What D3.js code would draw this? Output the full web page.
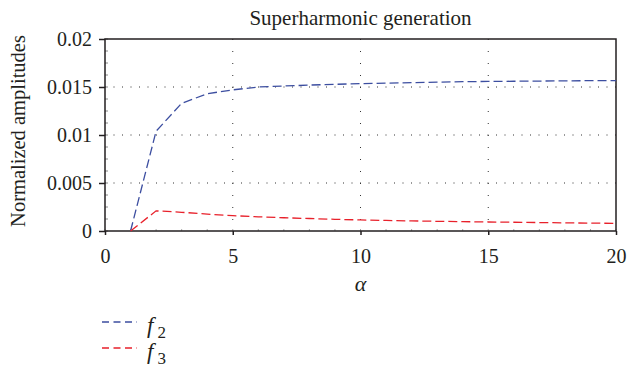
<!DOCTYPE html>
<html>
<head>
<meta charset="utf-8">
<script src="https://cdn.jsdelivr.net/npm/d3@7"></script>
<style>
  body { margin: 0; background: #fff; }
</style>
</head>
<body>
<svg id="canvas" width="629" height="367"></svg>
<script>
// values
var alpha = [1, 2, 3, 4, 5, 6, 7, 8, 9, 10, 11, 12, 13, 14, 15, 16, 17, 18, 19, 20]
var f2 = [0, 0.0104, 0.0133, 0.0143, 0.0147, 0.0150, 0.0151, 0.0152, 0.01528, 0.01535,
  0.0154, 0.01545, 0.0155, 0.01555, 0.01558, 0.0156, 0.01562, 0.01564, 0.01566, 0.01567]
var f3 = [0, 0.0021, 0.00195, 0.00176, 0.0016, 0.00148, 0.00138, 0.0013, 0.00122, 0.00115,
  0.0011, 0.00105, 0.00101, 0.00097, 0.00094, 0.00091, 0.00088, 0.00085, 0.00082, 0.0008]
var xTicks = [0, 5, 10, 15, 20]
var yTicks = [0, 0.005, 0.01, 0.015, 0.02]
var yTickLabels = ['0', '0.005', '0.01', '0.015', '0.02']
var seriesNames = ['2', '3']
var colors = ['#3c4ea0', '#e8212b']

var serif = '"Liberation Serif", serif'
var ink = '#231f20'
var margin = {left: 105, right: 13, top: 39, bottom: 136}
var width = 629 - margin.left - margin.right
var height = 367 - margin.top - margin.bottom

var svg = d3.select('#canvas')
var g = svg.append('g').attr('transform', 'translate(' + margin.left + ',' + margin.top + ')')

var x = d3.scaleLinear().domain([0, 20]).range([0, width])
var y = d3.scaleLinear().domain([0, 0.02]).range([height, 0])

// dotted grid
g.append('g').selectAll('line')
  .data(xTicks.slice(1, -1))
  .enter().append('line')
  .attr('x1', d => x(d)).attr('x2', d => x(d))
  .attr('y1', 0).attr('y2', height)
  .attr('stroke', '#333').attr('stroke-width', 1)
  .attr('stroke-dasharray', '1,11')
g.append('g').selectAll('line')
  .data(yTicks.slice(1, -1))
  .enter().append('line')
  .attr('y1', d => y(d)).attr('y2', d => y(d))
  .attr('x1', 0).attr('x2', width)
  .attr('stroke', '#333').attr('stroke-width', 1)
  .attr('stroke-dasharray', '1,7.5')

// minor ticks, inward
g.append('g').selectAll('line')
  .data(d3.range(0, 0.0201, 0.00125))
  .enter().append('line')
  .attr('x1', 0).attr('x2', 3)
  .attr('y1', d => y(d)).attr('y2', d => y(d))
  .attr('stroke', '#888')
g.append('g').selectAll('line')
  .data(d3.range(0, 20.01, 1))
  .enter().append('line')
  .attr('y1', height).attr('y2', height - 2)
  .attr('x1', d => x(d)).attr('x2', d => x(d))
  .attr('stroke', '#aaa')

// axes
var xAxis = g.append('g')
  .attr('transform', 'translate(0,' + height + ')')
  .call(d3.axisBottom(x).tickValues(xTicks).tickSize(4).tickPadding(14))
var yAxis = g.append('g')
  .call(d3.axisLeft(y).tickValues(yTicks).tickSize(6).tickPadding(7)
    .tickFormat((d, i) => yTickLabels[i]))
;[xAxis, yAxis].forEach(a => {
  a.select('.domain').remove()
  a.selectAll('line').attr('stroke', ink).attr('stroke-width', 1.5)
  a.selectAll('text')
    .style('font-family', serif).style('font-size', '20px').style('fill', ink)
})

// frame
g.append('rect')
  .attr('width', width).attr('height', height)
  .attr('fill', 'none').attr('stroke', ink).attr('stroke-width', 1.5)

// lines
var line = d3.line().x((d, i) => x(alpha[i])).y(d => y(d))
;[f2, f3].forEach((s, k) => {
  g.append('path')
    .datum(s)
    .attr('d', line)
    .attr('fill', 'none')
    .attr('stroke', colors[k])
    .attr('stroke-width', 1.3)
    .attr('stroke-dasharray', '9,4')
})

// title and labels
function label(sel, size) {
  return sel.style('font-family', serif).style('font-size', size + 'px').style('fill', ink)
}
label(svg.append('text'), 21)
  .attr('x', margin.left + width / 2).attr('y', 25)
  .attr('text-anchor', 'middle')
  .text('Superharmonic generation')
label(svg.append('text'), 20.5)
  .attr('transform', 'translate(25,' + (margin.top + height / 2 - 4) + ') rotate(-90)')
  .attr('text-anchor', 'middle')
  .text('Normalized amplitudes')
label(svg.append('text'), 22)
  .attr('x', margin.left + width / 2).attr('y', 291)
  .attr('text-anchor', 'middle').style('font-style', 'italic')
  .text('α')

// legend
var leg = svg.append('g').attr('transform', 'translate(102,322)')
seriesNames.forEach((n, i) => {
  var row = leg.append('g').attr('transform', 'translate(0,' + i * 26 + ')')
  row.append('line')
    .attr('x1', 0).attr('x2', 35)
    .attr('stroke', colors[i]).attr('stroke-width', 1.3)
    .attr('stroke-dasharray', '7,4.5')
  var t = label(row.append('text'), 23).attr('x', 45).attr('y', 11)
  t.append('tspan').style('font-style', 'italic').text('f')
  t.append('tspan').attr('dx', 4).attr('dy', 5).style('font-size', '17px').text(n)
})
</script>
</body>
</html>
